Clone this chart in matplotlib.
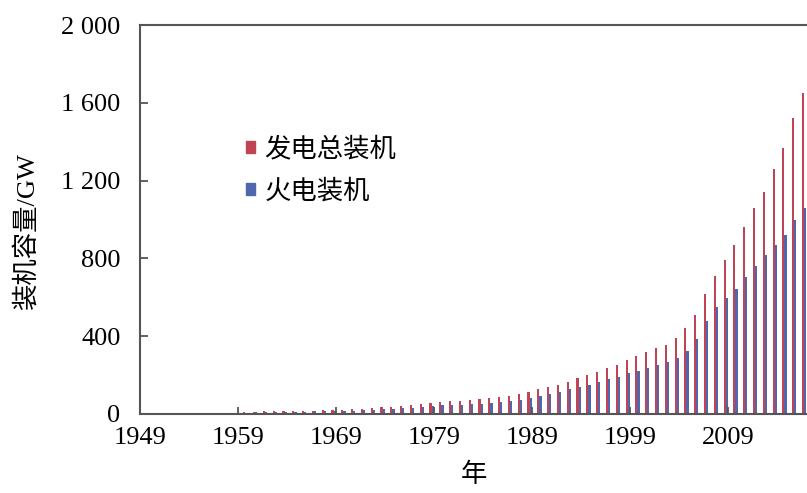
#!/usr/bin/env python3

import matplotlib
matplotlib.use("Agg")
import matplotlib.pyplot as plt
from matplotlib.patches import Patch
import numpy as np


years = list(range(1949, 2017))

# total installed capacity (GW)
total_gw = [1.9, 1.9, 1.9, 2.0, 2.2, 2.6, 3.1, 3.7, 4.6, 6.3,
            9.5, 11.9, 12.9, 13.0, 13.3, 13.5, 15.1, 16.8, 18.0, 18.2,
            19.2, 23.8, 26.3, 30.5, 33.9, 36.4, 43.4, 46.7, 51.5, 57.1,
            63.0, 65.9, 69.1, 72.4, 76.4, 80.1, 87.1, 93.8, 102.9, 115.5,
            126.6, 137.9, 151.5, 166.5, 182.9, 199.9, 217.2, 236.5, 254.2, 277.3,
            298.8, 319.3, 338.5, 356.6, 391.4, 440, 510, 615, 712, 790,
            868, 962, 1058, 1143, 1258, 1368, 1520, 1648]

# thermal installed capacity (GW)
thermal_gw = [1.7, 1.7, 1.7, 1.8, 2.0, 2.3, 2.6, 2.9, 3.6, 4.7,
              7.6, 10.0, 10.3, 10.4, 10.6, 10.7, 12.1, 13.6, 14.3, 14.5,
              15.1, 17.5, 19.8, 22.8, 24.9, 26.2, 29.0, 31.1, 34.5, 39.8,
              44.0, 45.6, 47.2, 49.4, 52.2, 54.5, 60.6, 66.3, 73.7, 84.5,
              92.1, 101.8, 113.6, 126.7, 139.8, 151.0, 162.9, 178.9, 192.4, 209.9,
              223.4, 237.5, 253.0, 265.6, 289.8, 322, 385, 478, 550, 595,
              645, 705, 762, 815, 868, 922, 1000, 1058]

tick_years = [1949, 1959, 1969, 1979, 1989, 1999, 2009]
y_ticks = [0, 400, 800, 1200, 1600, 2000]

red = "#c04456"
blue = "#5066ad"
spine_color = "#555555"
serif = "Liberation Serif"
cjk = ["Liberation Serif", "Noto Sans CJK SC"]

fig = plt.figure(figsize=(8.07, 4.93), dpi=100)
ax = fig.add_axes([140 / 807, 79 / 493, 667 / 807, 389 / 493])

x = np.arange(len(years))
ax.bar(x + 0.65, total_gw, width=0.22, color=red, linewidth=0, label="发电总装机")
ax.bar(x + 0.87, thermal_gw, width=0.22, color=blue, linewidth=0, label="火电装机")

ax.set_xlim(0, 68.06)
ax.set_ylim(0, 2000)

ax.set_xticks([y - 1949 for y in tick_years])
ax.set_xticklabels([str(y) for y in tick_years], fontfamily=serif, fontsize=19)
ax.set_yticks(y_ticks)
ax.set_yticklabels([f"{v:,}".replace(",", " ") for v in y_ticks],
                   fontfamily=serif, fontsize=19)
ax.tick_params(axis="y", direction="in", length=6, width=1.3, color=spine_color, pad=14)
ax.tick_params(axis="x", direction="in", length=5, width=1.3, color=spine_color, pad=9)

for side in ["left", "bottom", "top"]:
    ax.spines[side].set_color(spine_color)
    ax.spines[side].set_linewidth(1.5)
ax.spines["right"].set_visible(False)

ax.set_ylabel("装机容量/GW", family=cjk, fontsize=19)
ax.yaxis.set_label_coords(-0.152, 0.47)
ax.set_xlabel("年", family=cjk, fontsize=19, labelpad=10)

handles = [Patch(color=red), Patch(color=blue)]
ax.legend(handles, ["发电总装机", "火电装机"], loc="upper left",
          bbox_to_anchor=(0.143, 0.74), frameon=False,
          prop={"family": cjk, "size": 19},
          handlelength=0.35, handleheight=0.35, handletextpad=0.35,
          labelspacing=0.65, borderaxespad=0)

fig.savefig("out.png", dpi=100)
